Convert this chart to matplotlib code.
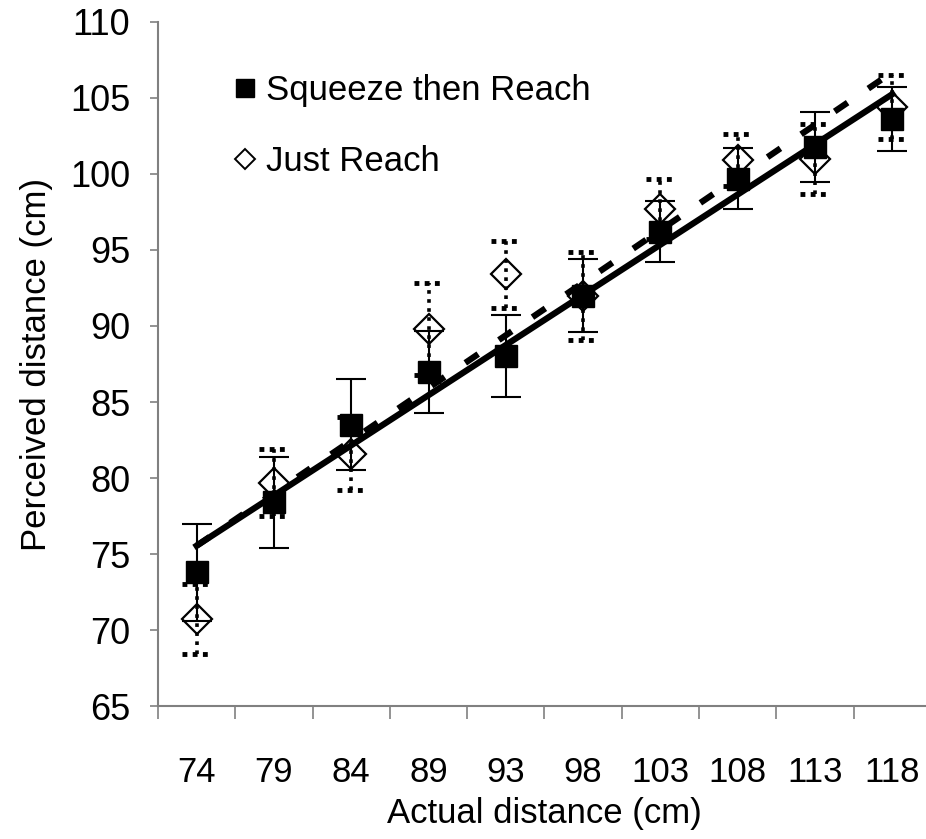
import numpy as np
import matplotlib.pyplot as plt
from matplotlib.lines import Line2D

plt.rcParams['font.family'] = ['Liberation Sans', 'DejaVu Sans']

# actual distance categories (cm)
distances = ['74', '79', '84', '89', '93', '98', '103', '108', '113', '118']
# Squeeze then Reach: mean perceived distance and error
squeeze_mean = [73.8, 78.4, 83.5, 87.0, 88.0, 92.0, 96.2, 99.7, 101.8, 103.6]
squeeze_err = [3.2, 3.0, 3.0, 2.7, 2.7, 2.4, 2.0, 2.0, 2.3, 2.1]
# Just Reach
reach_mean = [70.7, 79.7, 81.6, 89.8, 93.4, 92.0, 97.7, 100.9, 101.0, 104.4]
reach_err = [2.3, 2.2, 2.4, 3.0, 2.2, 2.9, 2.0, 1.7, 2.3, 2.1]

x = np.arange(len(distances))
sm = np.array(squeeze_mean)
se = np.array(squeeze_err)
rm = np.array(reach_mean)
re = np.array(reach_err)

fig = plt.figure(figsize=(9.26, 8.39), dpi=100)
ax = fig.add_axes([0.1706, 0.1585, 0.8348, 0.8153])

# squeeze then reach: solid error bars, filled squares
ax.errorbar(x, sm, yerr=se, fmt='s', color='black', ms=16, capsize=11,
            elinewidth=1.5, capthick=1.5, zorder=3)

# just reach: dotted error bars with dotted caps, open diamonds
eb = ax.errorbar(x, rm, yerr=re, fmt='none', ecolor='black', elinewidth=2.6, zorder=4)
eb[2][0].set_linestyle((0, (1, 1.5)))
ax.hlines(rm + re, x - 0.19, x + 0.19, colors='black', lw=3.5,
          linestyles=(0, (1, 1.1)), zorder=4)
ax.hlines(rm - re, x - 0.19, x + 0.19, colors='black', lw=3.5,
          linestyles=(0, (1, 1.1)), zorder=4)
ax.plot(x, rm, 'D', mfc='none', mec='black', mew=1.6, ms=15, zorder=5)

# linear trend lines
ends = x[[0, -1]]
fit_s = np.polyfit(x, sm, 1)
fit_r = np.polyfit(x, rm, 1)
ax.plot(ends, np.polyval(fit_s, ends), '-', color='black', lw=4.5, zorder=6)
ax.plot(ends, np.polyval(fit_r, ends), color='black', lw=4.5,
        dashes=(2.5, 4), zorder=6)

ax.set_xlim(-0.5, len(distances) - 0.5)
ax.set_ylim(65, 110)
ax.set_yticks(np.arange(65, 111, 5))
ax.set_xticks(x)
ax.set_xticklabels(distances)
ax.set_xticks(np.arange(-0.5, len(distances)), minor=True)

for side in ['top', 'right']:
    ax.spines[side].set_visible(False)
for side in ['left', 'bottom']:
    ax.spines[side].set_color('#808080')
    ax.spines[side].set_linewidth(1.5)

ax.tick_params(axis='x', which='major', length=0, pad=36, labelsize=25)
ax.tick_params(axis='x', which='minor', length=9, width=1.2, color='#808080', direction='out')
ax.tick_params(axis='y', length=6, width=1.2, color='#808080', direction='out',
               pad=14, labelsize=26)

ax.set_xlabel('Actual distance (cm)', fontsize=25, labelpad=6)
ax.set_ylabel('Perceived distance (cm)', fontsize=25, labelpad=12)

handles = [
    Line2D([], [], marker='s', ls='none', color='black', ms=13),
    Line2D([], [], marker='D', ls='none', mfc='none', mec='black', mew=1.4, ms=10),
]
ax.legend(handles, ['Squeeze then Reach', 'Just Reach'], loc='upper left',
          bbox_to_anchor=(0.05, 0.97), frameon=False, fontsize=25,
          handletextpad=0.1, handlelength=1.0, labelspacing=1.1)

fig.savefig('out.png', dpi=100)
